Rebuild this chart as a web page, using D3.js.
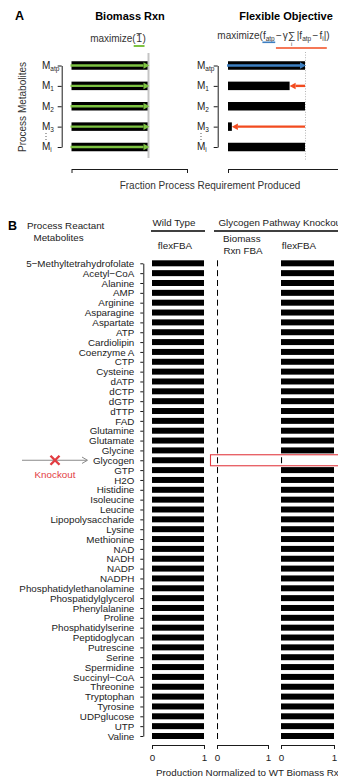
<!DOCTYPE html>
<html>
<head>
<meta charset="utf-8">
<script src="https://cdn.jsdelivr.net/npm/d3@7"></script>
<style>
  html, body { margin: 0; padding: 0; background: #fff; }
  svg { display: block; }
  text { font-family: "Liberation Sans", Arial, Helvetica, sans-serif; }
</style>
</head>
<body>
<svg id="fig" width="338" height="777"></svg>
<script>
// ---------- Panel A: schematic of the two objectives ----------
const processMetabolites = ["atp", "1", "2", "3", "i"];          // subscripts of M
const biomassRxnFraction = [1, 1, 1, 1, 1];
const flexObjectiveFraction = [1, 0.8, 1, 0.05, 1];
const fractionAxisTicks = [0, 1.5];

// ---------- Panel B: production per reactant metabolite ----------
const reactantMetabolites = [
  "5\u2212Methyltetrahydrofolate", "Acetyl\u2212CoA", "Alanine", "AMP", "Arginine",
  "Asparagine", "Aspartate", "ATP", "Cardiolipin", "Coenzyme A", "CTP", "Cysteine",
  "dATP", "dCTP", "dGTP", "dTTP", "FAD", "Glutamine", "Glutamate", "Glycine",
  "Glycogen", "GTP", "H2O", "Histidine", "Isoleucine", "Leucine",
  "Lipopolysaccharide", "Lysine", "Methionine", "NAD", "NADH", "NADP", "NADPH",
  "Phosphatidylethanolamine", "Phospatidylglycerol", "Phenylalanine", "Proline",
  "Phosphatidylserine", "Peptidoglycan", "Putrescine", "Serine", "Spermidine",
  "Succinyl\u2212CoA", "Threonine", "Tryptophan", "Tyrosine", "UDPglucose", "UTP", "Valine"
];
const wildTypeFlexFBA = [
  1, 1, 1, 1, 1, 1, 1, 1, 1, 1, 1, 1, 1, 1, 1, 1, 1, 1, 1, 1,
  1, 1, 1, 1, 1, 1, 1, 1, 1, 1, 1, 1, 1, 1, 1, 1, 1, 1, 1, 1,
  1, 1, 1, 1, 1, 1, 1, 1, 1
];
const knockoutBiomassFBA = [
  0.02, 0.02, 0.02, 0.02, 0.02, 0.02, 0.02, 0.02, 0.02, 0.02, 0.02, 0.02, 0.02, 0.02, 0.02, 0.02, 0.02, 0.02, 0.02, 0.02,
  0.02, 0.02, 0.02, 0.02, 0.02, 0.02, 0.02, 0.02, 0.02, 0.02, 0.02, 0.02, 0.02, 0.02, 0.02, 0.02, 0.02, 0.02, 0.02, 0.02,
  0.02, 0.02, 0.02, 0.02, 0.02, 0.02, 0.02, 0.02, 0.02
];
const knockoutFlexFBA = [
  1, 1, 1, 1, 1, 1, 1, 1, 1, 1, 1, 1, 1, 1, 1, 1, 1, 1, 1, 1,
  0.02, 1, 1, 1, 1, 1, 1, 1, 1, 1, 1, 1, 1, 1, 1, 1, 1, 1, 1, 1,
  1, 1, 1, 1, 1, 1, 1, 1, 1
];
const knockedOut = "Glycogen";
const productionTicks = [0, 1];

// ---------- styling ----------
const ink = "#1b1b1b";
const green = "#7dc242";
const blue = "#3d7fc1";
const orange = "#f24b1f";
const koRed = "#e23c42";
const fsB = 9.8;

const svg = d3.select("#fig");

function arrow(g, x1, x2, y, color, w, hl, hw) {
  const dir = Math.sign(x2 - x1);
  const xb = x2 - dir * hl;
  g.append("line").attr("x1", x1).attr("x2", xb).attr("y1", y).attr("y2", y)
    .attr("stroke", color).attr("stroke-width", w);
  g.append("path").attr("d", `M${x2},${y}L${xb},${y - hw / 2}L${xb},${y + hw / 2}Z`)
    .attr("fill", color);
}

// Lays out a run of text pieces side by side, centred on cx; returns piece extents.
function formula(g, pieces, cx, baseY, color) {
  const grp = g.append("g");
  let x = 0;
  const spans = {};
  pieces.forEach(p => {
    x += p.pre || 0;
    const el = grp.append("text").attr("x", x).attr("y", baseY + (p.dy || 0))
      .attr("font-size", p.size).attr("fill", color).text(p.t);
    const w = el.node().getComputedTextLength();
    if (p.key) spans[p.key] = [x, x + w];
    x += w;
  });
  const x0 = cx - x / 2;
  grp.attr("transform", `translate(${x0},0)`);
  Object.keys(spans).forEach(k => { spans[k] = [spans[k][0] + x0, spans[k][1] + x0]; });
  return { grp, x0, spans };
}

function styleAxis(g) {
  g.selectAll("path.domain").attr("stroke", ink).attr("stroke-width", 1);
  g.selectAll(".tick line").attr("stroke", ink).attr("stroke-width", 1);
}

// =====================================================================
// Panel A
// =====================================================================
const A = svg.append("g");
A.append("text").attr("x", 15).attr("y", 20).attr("font-size", 12.5)
  .attr("font-weight", "bold").attr("fill", "#000").text("A");
A.append("text").attr("x", 130).attr("y", 20).attr("font-size", 11)
  .attr("font-weight", "bold").attr("text-anchor", "middle").attr("fill", "#000").text("Biomass Rxn");
A.append("text").attr("x", 286).attr("y", 20).attr("font-size", 11)
  .attr("font-weight", "bold").attr("text-anchor", "middle").attr("fill", "#000").text("Flexible Objective");

// objective formulas
const fBio = formula(A, [
  { t: "maximize(", size: 10 },
  { t: "1", size: 10.5, key: "one", pre: 0.5 },
  { t: ")", size: 10, pre: 0.5 }
], 118, 42, "#333");
const one = fBio.spans.one;
A.append("line").attr("x1", one[0] + 0.3).attr("x2", one[1] - 0.3).attr("y1", 33.6).attr("y2", 33.6)
  .attr("stroke", "#333").attr("stroke-width", 0.9);
A.append("line").attr("x1", one[0] - 2.5).attr("x2", one[1] + 2.5).attr("y1", 46).attr("y2", 46)
  .attr("stroke", green).attr("stroke-width", 2);

const fFlex = formula(A, [
  { t: "maximize(", size: 10 },
  { t: "f", size: 10, key: "fa" },
  { t: "atp", size: 6.5, dy: 2, key: "fb" },
  { t: "\u2212", size: 10, pre: 1.2, key: "ra" },
  { t: "\u03b3", size: 10, pre: 1 },
  { t: "\u2211", size: 10.5, key: "sum" },
  { t: "|f", size: 10, pre: 1.5 },
  { t: "atp", size: 6.5, dy: 2 },
  { t: "\u2212", size: 10, pre: 1.2 },
  { t: "f", size: 10, pre: 1.2 },
  { t: "i", size: 6.5, dy: 2 },
  { t: "|", size: 10, key: "rb" },
  { t: ")", size: 10 }
], 273.5, 39, "#333");
const sp = fFlex.spans;
A.append("text").attr("x", (sp.sum[0] + sp.sum[1]) / 2).attr("y", 45.5).attr("font-size", 5.5)
  .attr("text-anchor", "middle").attr("fill", "#333").text("i");
A.append("line").attr("x1", sp.fa[0] - 0.5).attr("x2", sp.fb[1] + 0.5).attr("y1", 42.3).attr("y2", 42.3)
  .attr("stroke", blue).attr("stroke-width", 1.6);
A.append("line").attr("x1", sp.ra[0]).attr("x2", sp.rb[1] + 0.5).attr("y1", 48).attr("y2", 48)
  .attr("stroke", orange).attr("stroke-width", 1.6);

// shared row scale
const yA = d3.scalePoint().domain(processMetabolites).range([65.5, 147]);
const barHA = 8.5;

A.append("text").attr("transform", "translate(25.5,107) rotate(-90)")
  .attr("font-size", 10).attr("text-anchor", "middle").attr("fill", "#333")
  .text("Process Metabolites");

function drawRowAxis(g, axisX, labelX) {
  const ax = g.append("g").attr("transform", `translate(${axisX},0)`)
    .call(d3.axisLeft(yA).tickSize(4).tickSizeOuter(0).tickFormat(""));
  styleAxis(ax);
  processMetabolites.forEach(sub => {
    const t = g.append("text").attr("x", labelX).attr("y", yA(sub) + 3.4)
      .attr("font-size", 10).attr("fill", "#222");
    t.append("tspan").text("M");
    t.append("tspan").attr("font-size", 6.5).attr("dy", 2).text(sub);
  });
  // vertical ellipsis between M3 and Mi
  [133.5, 136.5, 139.5].forEach(cy => {
    g.append("circle").attr("cx", labelX + 4).attr("cy", cy).attr("r", 0.6).attr("fill", "#444");
  });
}

// Biomass Rxn chart
const xAL = d3.scaleLinear().domain([0, 1.5]).range([71.5, 187]);
drawRowAxis(A, 61.7, 42);
processMetabolites.forEach((m, i) => {
  A.append("rect").attr("x", xAL(0)).attr("y", yA(m) - barHA / 2)
    .attr("width", xAL(biomassRxnFraction[i]) - xAL(0)).attr("height", barHA).attr("fill", "#000");
});
A.append("line").attr("x1", xAL(1)).attr("x2", xAL(1)).attr("y1", 53).attr("y2", 158)
  .attr("stroke", "#c4c4c4").attr("stroke-width", 2);
processMetabolites.forEach((m, i) => {
  arrow(A, xAL(0) - 1, xAL(biomassRxnFraction[i]) + 1, yA(m), green, 2.4, 6, 6.5);
});
const axAL = A.append("g").attr("transform", "translate(0,169)")
  .call(d3.axisBottom(xAL).tickValues(fractionAxisTicks).tickSize(4).tickSizeOuter(0).tickFormat(""));
styleAxis(axAL);

// Flexible objective chart
const xAR = d3.scaleLinear().domain([0, 1.5]).range([228, 343.5]);
drawRowAxis(A, 217.7, 197);
processMetabolites.forEach((m, i) => {
  A.append("rect").attr("x", xAR(0)).attr("y", yA(m) - barHA / 2)
    .attr("width", xAR(flexObjectiveFraction[i]) - xAR(0)).attr("height", barHA).attr("fill", "#000");
});
A.append("line").attr("x1", xAR(1) + 0.5).attr("x2", xAR(1) + 0.5).attr("y1", 52).attr("y2", 160)
  .attr("stroke", "#b5b5b5").attr("stroke-width", 1).attr("stroke-dasharray", "1,1.6");
// f_atp is pushed up to full production
arrow(A, xAR(0) - 1, xAR(flexObjectiveFraction[0]) + 1, yA(processMetabolites[0]), blue, 2.4, 6, 6.5);
// shortfalls of the other metabolites are penalised
processMetabolites.forEach((m, i) => {
  if (i > 0 && flexObjectiveFraction[i] < 1) {
    arrow(A, xAR(1), xAR(flexObjectiveFraction[i]), yA(m), orange, 2.4, 6, 6.5);
  }
});
const axAR = A.append("g").attr("transform", "translate(0,169)")
  .call(d3.axisBottom(xAR).tickValues(fractionAxisTicks).tickSize(4).tickSizeOuter(0).tickFormat(""));
styleAxis(axAR);

A.append("text").attr("x", 210).attr("y", 188.5).attr("font-size", 10)
  .attr("text-anchor", "middle").attr("fill", "#333").text("Fraction Process Requirement Produced");

// =====================================================================
// Panel B
// =====================================================================
const B = svg.append("g");
B.append("text").attr("x", 8).attr("y", 229.5).attr("font-size", 12.5)
  .attr("font-weight", "bold").attr("fill", "#000").text("B");
B.append("text").attr("x", 27).attr("y", 228.5).attr("font-size", fsB).attr("fill", "#222")
  .text("Process Reactant");
B.append("text").attr("x", 33.5).attr("y", 240.5).attr("font-size", fsB).attr("fill", "#222")
  .text("Metabolites");

B.append("text").attr("x", 174).attr("y", 225.5).attr("font-size", fsB)
  .attr("text-anchor", "middle").attr("fill", "#222").text("Wild Type");
B.append("line").attr("x1", 151).attr("x2", 205).attr("y1", 231).attr("y2", 231)
  .attr("stroke", "#000").attr("stroke-width", 1.5);
B.append("text").attr("x", 218.5).attr("y", 225.5).attr("font-size", fsB)
  .attr("fill", "#222").text("Glycogen Pathway Knockout");
B.append("line").attr("x1", 214).attr("x2", 340).attr("y1", 231).attr("y2", 231)
  .attr("stroke", "#000").attr("stroke-width", 1.5);

B.append("text").attr("x", 175).attr("y", 248.5).attr("font-size", fsB)
  .attr("text-anchor", "middle").attr("fill", "#222").text("flexFBA");
B.append("text").attr("x", 241.8).attr("y", 241.5).attr("font-size", fsB)
  .attr("text-anchor", "middle").attr("fill", "#222").text("Biomass");
B.append("text").attr("x", 243).attr("y", 253.5).attr("font-size", fsB)
  .attr("text-anchor", "middle").attr("fill", "#222").text("Rxn FBA");
B.append("text").attr("x", 299).attr("y", 248.5).attr("font-size", fsB)
  .attr("text-anchor", "middle").attr("fill", "#222").text("flexFBA");

const yB = d3.scalePoint().domain(reactantMetabolites).range([263.3, 736]);
const barHB = 6;

const axB = B.append("g").attr("transform", "translate(143.3,0)")
  .call(d3.axisLeft(yB).tickSize(3).tickSizeOuter(0).tickPadding(6));
styleAxis(axB);
axB.selectAll(".tick text").attr("font-size", fsB).attr("fill", "#222")
  .attr("font-family", '"Liberation Sans", Arial, Helvetica, sans-serif');

const columns = [
  { values: wildTypeFlexFBA, x: d3.scaleLinear().domain([0, 1]).range([152, 204]) },
  { values: knockoutBiomassFBA, x: d3.scaleLinear().domain([0, 1]).range([217, 268]) },
  { values: knockoutFlexFBA, x: d3.scaleLinear().domain([0, 1]).range([281, 334]) }
];

columns.forEach(col => {
  B.append("g").selectAll("rect").data(reactantMetabolites).join("rect")
    .attr("x", col.x(0))
    .attr("y", d => yB(d) - barHB / 2)
    .attr("width", (d, i) => col.x(col.values[i]) - col.x(0))
    .attr("height", barHB)
    .attr("fill", "#000");
  const ax = B.append("g").attr("transform", "translate(0,745)")
    .call(d3.axisBottom(col.x).tickValues(productionTicks).tickSize(4).tickSizeOuter(0)
      .tickPadding(5.5).tickFormat(d3.format("d")));
  styleAxis(ax);
  ax.selectAll(".tick text").attr("font-size", fsB).attr("fill", "#222")
    .attr("font-family", '"Liberation Sans", Arial, Helvetica, sans-serif');
});

B.append("text").attr("x", 156).attr("y", 775.5).attr("font-size", fsB).attr("fill", "#222")
  .text("Production Normalized to WT Biomass Rxn");

// knockout highlight
const yKO = yB(knockedOut);
B.append("rect").attr("x", 210.5).attr("y", yKO - 5.5).attr("width", 140).attr("height", 11)
  .attr("fill", "none").attr("stroke", koRed).attr("stroke-width", 1.1);
B.append("line").attr("x1", 22).attr("x2", 87).attr("y1", yKO).attr("y2", yKO)
  .attr("stroke", "#8a8a8a").attr("stroke-width", 1);
B.append("path").attr("d", `M82,${yKO - 3.2}L87.5,${yKO}L82,${yKO + 3.2}`)
  .attr("fill", "none").attr("stroke", "#8a8a8a").attr("stroke-width", 1);
B.append("path").attr("d", `M50.5,${yKO - 4.5}L59.5,${yKO + 4.5}M59.5,${yKO - 4.5}L50.5,${yKO + 4.5}`)
  .attr("stroke", koRed).attr("stroke-width", 2.4);
B.append("text").attr("x", 55).attr("y", 478).attr("font-size", fsB)
  .attr("text-anchor", "middle").attr("fill", koRed).text("Knockout");
</script>
</body>
</html>
